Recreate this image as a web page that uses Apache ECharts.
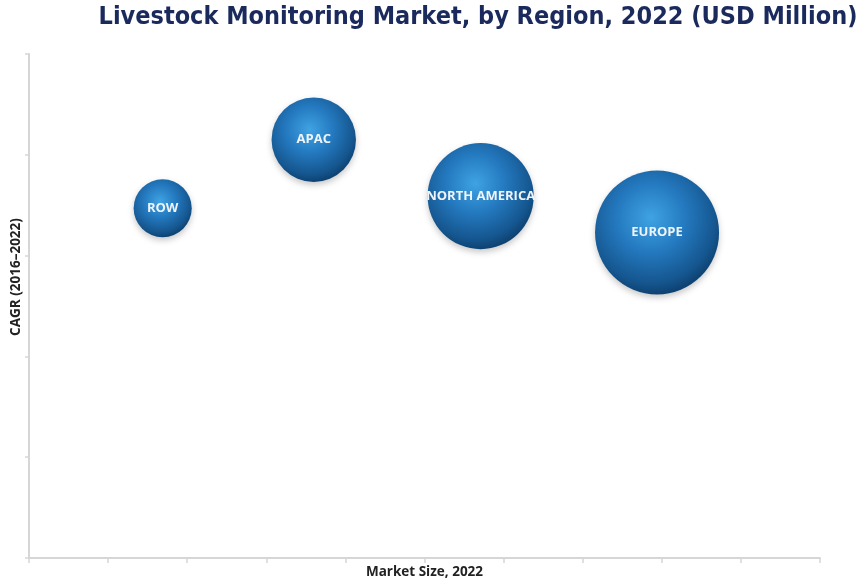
<!DOCTYPE html>
<html>
<head>
<meta charset="utf-8">
<script src="https://cdn.jsdelivr.net/npm/echarts@6/dist/echarts.min.js"></script>
<style>
html,body{margin:0;padding:0;background:#fff;}
#main{width:865px;height:587px;}
</style>
</head>
<body>
<div id="main"></div>
<script>
// Data
var regions = ['ROW', 'APAC', 'NORTH AMERICA', 'EUROPE'];
var positionX = [1.69, 3.60, 5.71, 7.94];   // position along "Market Size, 2022"
var cagr = [3.47, 4.15, 3.59, 3.23];        // position along "CAGR (2016–2022)"
var marketSize = [135, 285, 450, 615];      // bubble size value (USD Million, estimated)

var chart = echarts.init(document.getElementById('main'));

var seriesData = regions.map(function (r, i) {
  return { name: r, value: [positionX[i], cagr[i], marketSize[i]] };
});

var axisGray = '#d6d6d6';

chart.setOption({
  backgroundColor: '#ffffff',
  title: {
    text: 'Livestock Monitoring Market, by Region, 2022 (USD Million)',
    left: 473,
    textAlign: 'center',
    top: 0,
    textStyle: {
      fontFamily: 'DejaVu Sans Condensed',
      fontWeight: 'bold',
      fontSize: 25,
      color: '#1b2a5c'
    }
  },
  grid: { left: 29, right: 45, top: 54, bottom: 29 },
  xAxis: {
    type: 'value',
    min: 0, max: 10, interval: 1,
    name: 'Market Size, 2022',
    nameLocation: 'middle',
    nameGap: 7,
    nameTextStyle: { fontFamily: 'Open Sans', fontWeight: 'bold', fontSize: 13.5, color: '#222', verticalAlign: 'top' },
    axisLine: { show: true, lineStyle: { color: axisGray, width: 2 } },
    axisTick: { show: true, length: 5, lineStyle: { color: axisGray, width: 1.5 } },
    axisLabel: { show: false },
    splitLine: { show: false }
  },
  yAxis: {
    type: 'value',
    min: 0, max: 5, interval: 1,
    name: 'CAGR (2016–2022)',
    nameLocation: 'middle',
    nameRotate: 90,
    nameGap: 6,
    nameTextStyle: { fontFamily: 'Open Sans', fontWeight: 'bold', fontSize: 13.5, color: '#222', padding: [0, 0, 0, 58] },
    axisLine: { show: true, lineStyle: { color: axisGray, width: 2 } },
    axisTick: { show: true, length: 4, lineStyle: { color: axisGray, width: 1.5 } },
    axisLabel: { show: false },
    splitLine: { show: false }
  },
  series: [{
    type: 'scatter',
    data: seriesData,
    symbol: 'circle',
    symbolSize: function (v) { return 5 * Math.sqrt(v[2]); },
    itemStyle: {
      opacity: 1,
      color: {
        type: 'radial', x: 0.45, y: 0.38, r: 0.62,
        colorStops: [
          { offset: 0, color: '#3fa3e3' },
          { offset: 0.45, color: '#2479bf' },
          { offset: 0.85, color: '#15568f' },
          { offset: 1, color: '#0e4272' }
        ]
      },
      shadowBlur: 6,
      shadowColor: 'rgba(0,0,0,0.22)',
      shadowOffsetY: 3
    },
    label: {
      show: true,
      position: 'inside',
      formatter: function (p) { return p.name; },
      fontFamily: 'Open Sans',
      fontWeight: 'bold',
      fontSize: 13,
      color: '#eef4fa'
    },
    emphasis: { disabled: true }
  }]
});
</script>
</body>
</html>
